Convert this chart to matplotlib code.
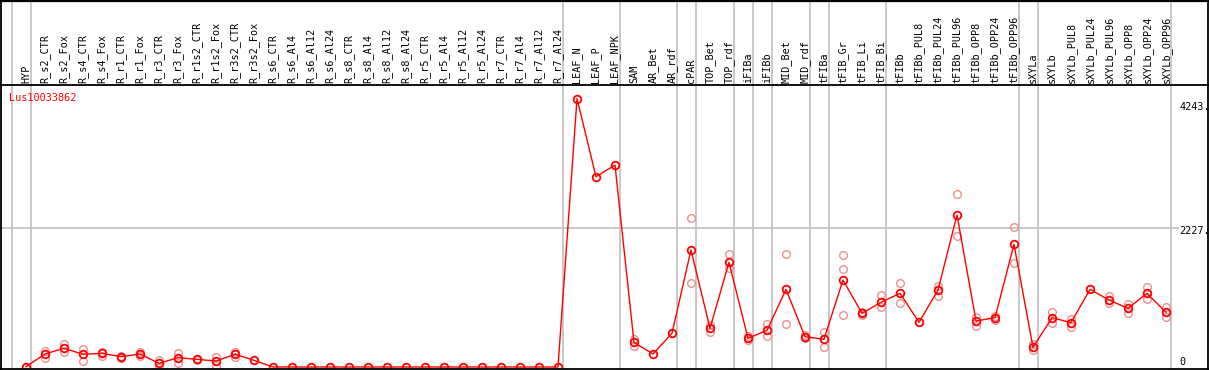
import numpy as np
import matplotlib
matplotlib.use("Agg")
import matplotlib.pyplot as plt

# ---- data ------------------------------------------------------------------
gene = "Lus10033862"

samples = ["HYP",
           "R_s2_CTR", "R_s2_Fox", "R_s4_CTR", "R_s4_Fox", "R_r1_CTR", "R_r1_Fox",
           "R_r3_CTR", "R_r3_Fox", "R_r1s2_CTR", "R_r1s2_Fox", "R_r3s2_CTR", "R_r3s2_Fox",
           "R_s6_CTR", "R_s6_Al4", "R_s6_Al12", "R_s6_Al24",
           "R_s8_CTR", "R_s8_Al4", "R_s8_Al12", "R_s8_Al24",
           "R_r5_CTR", "R_r5_Al4", "R_r5_Al12", "R_r5_Al24",
           "R_r7_CTR", "R_r7_Al4", "R_r7_Al12", "R_r7_Al24",
           "LEAF_N", "LEAF_P", "LEAF_NPK",
           "SAM", "AR_Bet", "AR_rdf",
           "cPAR",
           "TOP_Bet", "TOP_rdf",
           "iFIBa", "iFIBb",
           "MID_Bet", "MID_rdf",
           "tFIBa",
           "tFIB_Gr", "tFIB_Li", "tFIB_Bi",
           "tFIBb", "tFIBb_PUL8", "tFIBb_PUL24", "tFIBb_PUL96",
           "tFIBb_OPP8", "tFIBb_OPP24", "tFIBb_OPP96",
           "sXYLa",
           "sXYLb", "sXYLb_PUL8", "sXYLb_PUL24", "sXYLb_PUL96",
           "sXYLb_OPP8", "sXYLb_OPP24", "sXYLb_OPP96"]

# sizes of the sample groups (separated by grey vertical lines)
group_sizes = [1, 28, 3, 3, 1, 2, 1, 1, 2, 1, 3, 7, 1, 7]

mean_expr = [5,
             209, 300, 204, 220, 166, 209,
             59, 150, 123, 96, 204, 107,
             0, 0, 0, 0,
             0, 0, 0, 0,
             0, 0, 0, 0,
             0, 0, 0, 0,
             4310, 3055, 3243,
             396, 209, 541,
             1879,
             621, 1681,
             461, 589,
             1247, 487,
             445,
             1397, 862, 1039,
             1183, 718, 1236, 2441,
             739, 792, 1970,
             316,
             792, 712, 1247, 1076,
             942, 1183, 878]

replicates = [[],
              [262, 150], [369, 236], [284, 96], [246, 177], [180, 150], [236, 182],
              [112, 6], [220, 59], [135, 110], [155, 21], [246, 166], [],
              [], [], [], [],
              [], [], [], [],
              [], [], [], [],
              [], [], [], [],
              [], [], [],
              [445, 337], [], [],
              [2387, 1343],
              [674, 567], [1809, 1585],
              [495, 440], [685, 503],
              [1809, 690], [511, 466],
              [567, 326],
              [1793, 1574, 835], [830, 890], [1156, 958],
              [1343, 1023], [], [1301, 1145], [2773, 2103],
              [808, 663], [823, 760], [2253, 1665],
              [369, 273],
              [878, 701], [771, 637], [], [1145, 1023],
              [1012, 862], [1280, 1087], [968, 798]]

ytick_vals = [0, 2227, 4243]
ytick_labels = ["0", "2227.", "4243."]

# ---- pixel layout ----------------------------------------------------------
W, H = 1209, 370
X0_PX, STEP_PX = 26, 19          # first sample x, spacing
ZERO_PX, PX_PER_UNIT = 367, 0.06228
HEADER_PX = 85


def ix(px):
    return (px - X0_PX) / STEP_PX


def vy(py):
    return (ZERO_PX - py) / PX_PER_UNIT


RED = "#ff0000"
PINK = "#ee9090"
GRID = "#c4c4c4"
MONO = "DejaVu Sans Mono"

fig = plt.figure(figsize=(W / 100, H / 100), dpi=100)
ax = fig.add_axes([0, 0, 1, 1])
ax.set_xlim(ix(0), ix(W))
ax.set_ylim(vy(H), vy(0))
ax.axis("off")

x = np.arange(len(samples))

# group separators
bounds = [-1] + list(np.cumsum(group_sizes) - 1)
for b in bounds:
    ax.axvline(b + 0.24, color=GRID, lw=1.3, zorder=1)
ax.plot([ix(0), ix(1178)], [2227, 2227], color=GRID, lw=1.3, zorder=1)

# replicates
for i, reps in enumerate(replicates):
    if reps:
        ax.plot([i] * len(reps), reps, "o", ms=5.5, mfc="none", mec=PINK,
                mew=1.0, zorder=2)

# means
ax.plot(x, mean_expr, "-", color=RED, lw=1.0, zorder=3)
ax.plot(x, mean_expr, "o", ms=5.5, mfc="none", mec=RED, mew=1.3, zorder=4)

# sample labels in the header
for i, s in enumerate(samples):
    ax.text(i, vy(HEADER_PX - 2), s, rotation=90, ha="center", va="bottom",
            fontsize=7.3, family=MONO, color="black")

ax.text(ix(9), vy(98), gene, ha="left", va="center", fontsize=7.3,
        family=MONO, color=RED, zorder=5)

# value labels on the right
offsets = [5, -3, -4]
for v, lab, off in zip(ytick_vals, ytick_labels, offsets):
    ax.annotate(lab, (ix(1179), v), xytext=(0, off), textcoords="offset pixels",
                ha="left", va="center", fontsize=7.3, family=MONO)

# frame
ax.add_patch(plt.Rectangle((ix(0), vy(H)), ix(W) - ix(0), vy(368.5) - vy(H),
                           color="white", zorder=6))
ax.plot([ix(0), ix(W)], [vy(0.8), vy(0.8)], color="black", lw=1.6, zorder=7)
ax.plot([ix(0), ix(W)], [vy(HEADER_PX), vy(HEADER_PX)], color="black", lw=1.3, zorder=7)
ax.plot([ix(0), ix(W)], [vy(368.5), vy(368.5)], color="black", lw=1.3, zorder=7)
ax.plot([ix(1.5), ix(1.5)], [vy(0), vy(H)], color="black", lw=1.3, zorder=7)
ax.plot([ix(1207.5), ix(1207.5)], [vy(0), vy(H)], color="black", lw=1.3, zorder=7)

fig.savefig("out.png", dpi=100)
